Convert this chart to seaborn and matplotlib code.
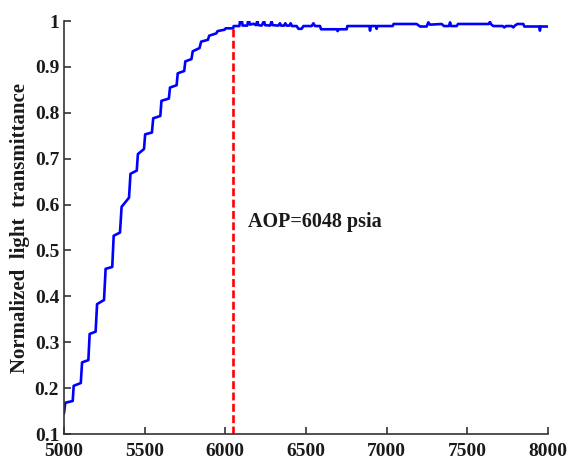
import matplotlib
matplotlib.use("Agg")
import matplotlib.pyplot as plt
import seaborn as sns
import pandas as pd

# ---- data ----
pressure_rise = [5000, 5008, 5054, 5060, 5104, 5112, 5151, 5159, 5196, 5205,
                 5248, 5258, 5299, 5308, 5347, 5357, 5403, 5412, 5451, 5458,
                 5496, 5503, 5545, 5553, 5597, 5604, 5650, 5657, 5698, 5705,
                 5745, 5752, 5790, 5798, 5840, 5850, 5892, 5900, 5944, 5952,
                 5995, 6002, 6048]
trans_rise = [0.145, 0.168, 0.172, 0.205, 0.211, 0.256, 0.261, 0.318, 0.323, 0.383,
              0.392, 0.460, 0.464, 0.532, 0.539, 0.595, 0.615, 0.667, 0.674, 0.710,
              0.721, 0.753, 0.757, 0.788, 0.793, 0.826, 0.831, 0.855, 0.860, 0.886,
              0.891, 0.912, 0.917, 0.934, 0.941, 0.955, 0.959, 0.968, 0.973, 0.978,
              0.981, 0.984, 0.984]

pressure_flat = [6052, 6087, 6091, 6103, 6107, 6136, 6141, 6149, 6153, 6174,
                 6190, 6198, 6205, 6225, 6240, 6246, 6277, 6287, 6293, 6329,
                 6339, 6345, 6364, 6372, 6380, 6397, 6405, 6413, 6442, 6453,
                 6473, 6484, 6535, 6546, 6556, 6587, 6593, 6690, 6696, 6703,
                 6752, 6756, 6893, 6897, 6901, 6934, 6938, 6942, 7037, 7043,
                 7186, 7207, 7248, 7258, 7269, 7341, 7355, 7386, 7393, 7399,
                 7434, 7442, 7634, 7640, 7647, 7661, 7719, 7729, 7740, 7775,
                 7785, 7795, 7810, 7847, 7853, 7946, 7950, 7954, 8000]
trans_flat = [0.989, 0.989, 1.000, 1.000, 0.990, 0.990, 1.000, 0.998, 0.992, 0.994,
              0.991, 1.000, 0.991, 0.990, 1.000, 0.991, 0.990, 0.999, 0.991, 0.990,
              0.995, 0.990, 0.990, 0.995, 0.990, 0.990, 0.995, 0.989, 0.989, 0.983,
              0.983, 0.989, 0.989, 0.995, 0.989, 0.989, 0.982, 0.982, 0.978, 0.982,
              0.982, 0.989, 0.989, 0.979, 0.989, 0.989, 0.983, 0.989, 0.989, 0.9935,
              0.9935, 0.988, 0.988, 0.997, 0.992, 0.9935, 0.989, 0.989, 0.997, 0.989,
              0.989, 0.9935, 0.9935, 0.998, 0.993, 0.989, 0.989, 0.986, 0.989, 0.989,
              0.986, 0.990, 0.9935, 0.9935, 0.988, 0.988, 0.979, 0.988, 0.988]

aop_pressure = 6048
aop_trans = 0.984
aop_label = "AOP=6048 psia"
x_ticks = [5000, 5500, 6000, 6500, 7000, 7500, 8000]
y_ticks = [0.1, 0.2, 0.3, 0.4, 0.5, 0.6, 0.7, 0.8, 0.9, 1.0]
y_tick_labels = ["0.1", "0.2", "0.3", "0.4", "0.5", "0.6", "0.7", "0.8", "0.9", "1"]
y_label = "Normalized  light  transmittance"

df = pd.DataFrame({"pressure": pressure_rise + pressure_flat,
                   "trans": trans_rise + trans_flat})

# ---- style ----
sns.set_style("white")
plt.rcParams["font.family"] = ["Liberation Serif", "DejaVu Serif"]
plt.rcParams["font.weight"] = "bold"

txt = "#1a1a1a"
axc = "#333333"

fig = plt.figure(figsize=(5.74, 4.61), dpi=100)
ax = fig.add_axes([64 / 574, 27 / 461, 484 / 574, 413 / 461])

sns.lineplot(data=df, x="pressure", y="trans", ax=ax, estimator=None, sort=False,
             color="#0000FF", linewidth=1.9)
ax.plot([aop_pressure, aop_pressure], [0.1, aop_trans], color="#FF0000",
        linewidth=1.9, linestyle=(0, (3.0, 1.3)))

ax.set_xlim(5000, 8000)
ax.set_ylim(0.1, 1.0)
ax.set_xticks(x_ticks)
ax.set_xticklabels([str(t) for t in x_ticks])
ax.set_yticks(y_ticks)
ax.set_yticklabels(y_tick_labels)
ax.tick_params(axis="both", which="major", bottom=True, left=True, top=False,
               right=False, direction="in", length=5, width=1.2, colors=axc,
               labelsize=14, labelcolor=txt)
ax.tick_params(axis="x", pad=6.2)
ax.tick_params(axis="y", pad=3.5)
for lab in ax.get_xticklabels() + ax.get_yticklabels():
    lab.set_fontweight("bold")

for side in ["top", "right"]:
    ax.spines[side].set_visible(False)
for side in ["left", "bottom"]:
    ax.spines[side].set_color(axc)
    ax.spines[side].set_linewidth(1.2)

ax.set_xlabel("")
ax.set_ylabel(y_label, fontsize=15, fontweight="bold", color=txt, labelpad=3)

ax.text(6140, 0.563, aop_label, fontsize=14.5, fontweight="bold", color=txt,
        ha="left", va="center")

fig.savefig("out.png", dpi=100)
